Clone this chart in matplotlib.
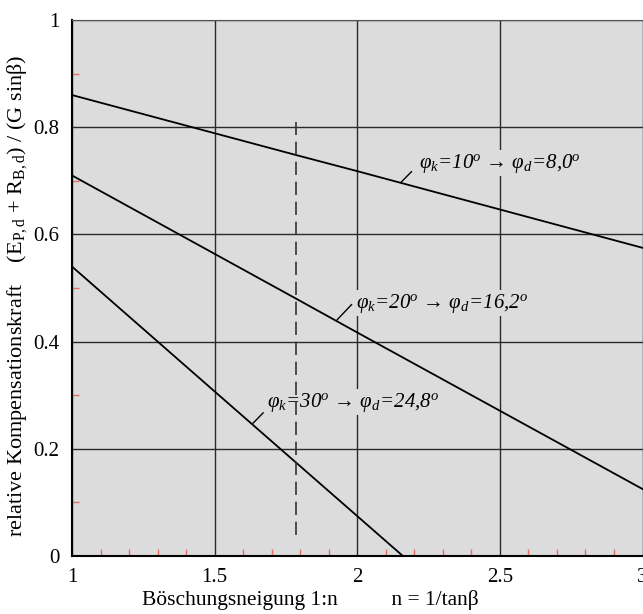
import matplotlib
matplotlib.use("Agg")
import matplotlib.pyplot as plt
import numpy as np

plt.rcParams['font.family'] = ['Liberation Serif', 'DejaVu Serif']
plt.rcParams['mathtext.fontset'] = 'custom'
plt.rcParams['mathtext.rm'] = 'Liberation Serif'
plt.rcParams['mathtext.it'] = 'Liberation Serif:italic'
plt.rcParams['mathtext.bf'] = 'Liberation Serif:bold'

# Data
n_10 = [1.0, 1.786, 2.0, 3.0]
k_10 = [0.86, 0.748, 0.718, 0.575]
n_20 = [1.0, 1.786, 2.0, 3.0]
k_20 = [0.71, 0.48, 0.417, 0.125]
n_30 = [1.0, 1.5, 1.786, 2.16]
k_30 = [0.54, 0.307, 0.174, 0.0]
dash_n = [1.786, 1.786]
dash_k = [0.04, 0.81]

xticks = [1, 1.5, 2, 2.5, 3]
xticklabels = ['1', '1.5', '2', '2.5', '3']
yticks = [0, 0.2, 0.4, 0.6, 0.8, 1]
yticklabels = ['0', '0.2', '0.4', '0.6', '0.8', '1']

labels = [u'φ$_k$=10$^o$ → φ$_d$=8,0$^o$',
          u'φ$_k$=20$^o$ → φ$_d$=16,2$^o$',
          u'φ$_k$=30$^o$ → φ$_d$=24,8$^o$']
label_pos = [(2.215, 0.733), (1.995, 0.472), (1.685, 0.287)]
leader = [((2.155, 0.698), (2.19, 0.717)),
          ((1.93, 0.441), (1.98, 0.469)),
          ((1.635, 0.248), (1.67, 0.267))]

fig = plt.figure(figsize=(6.43, 6.14), dpi=100)
ax = fig.add_axes([72/643, 58/614, 570.5/643, 536/614])
ax.set_facecolor('#dcdcdc')

for x in xticks:
    ax.axvline(x, color='#2a2a2a', lw=1.0, zorder=1)
for y in yticks:
    ax.axhline(y, color='#2a2a2a', lw=1.0, zorder=1)

ax.plot(n_10, k_10, color='black', lw=1.3, zorder=3)
ax.plot(n_20, k_20, color='black', lw=1.3, zorder=3)
ax.plot(n_30, k_30, color='black', lw=1.3, zorder=3)
ax.plot(dash_n, dash_k, color='#333333', lw=1.2, ls=(0, (8, 4)), zorder=5)

for lab, (tx, ty), ((x0, y0), (x1, y1)) in zip(labels, label_pos, leader):
    ax.plot([x0, x1], [y0, y1], color='black', lw=1.0, zorder=3)
    ax.text(tx, ty, lab, fontsize=15, fontstyle='italic', ha='left', va='center', zorder=4,
            bbox=dict(facecolor='#dcdcdc', edgecolor='none', pad=1))

ax.set_xlim(1, 3)
ax.set_ylim(0, 1)
ax.set_xticks(xticks)
ax.set_xticklabels(xticklabels)
ax.set_yticks(yticks)
ax.set_yticklabels(yticklabels)
ax.set_xticks(np.arange(1.1, 3.0, 0.1), minor=True)
ax.set_yticks(np.arange(0.1, 1.0, 0.2), minor=True)
ax.tick_params(which='major', length=0, labelsize=15, pad=9)
ax.tick_params(which='minor', direction='in', length=5, color='#e07070', width=1)

for s in ['left', 'bottom']:
    ax.spines[s].set_color('black')
    ax.spines[s].set_linewidth(1.5)
ax.spines['top'].set_color('#555555')
ax.spines['right'].set_color('#555555')

fig.text(0.483, 0.022, u'Böschungsneigung 1:n          n = 1/tanβ', fontsize=15.5,
         ha='center', va='center')
fig.text(17/643, 1 - 296/614,
         r'relative Kompensationskraft    (E$_{\mathrm{P,d}}$ + R$_{\mathrm{B,d}}$) / (G sinβ)',
         fontsize=16, rotation=90, ha='center', va='center')

fig.savefig('out.png', dpi=100)
